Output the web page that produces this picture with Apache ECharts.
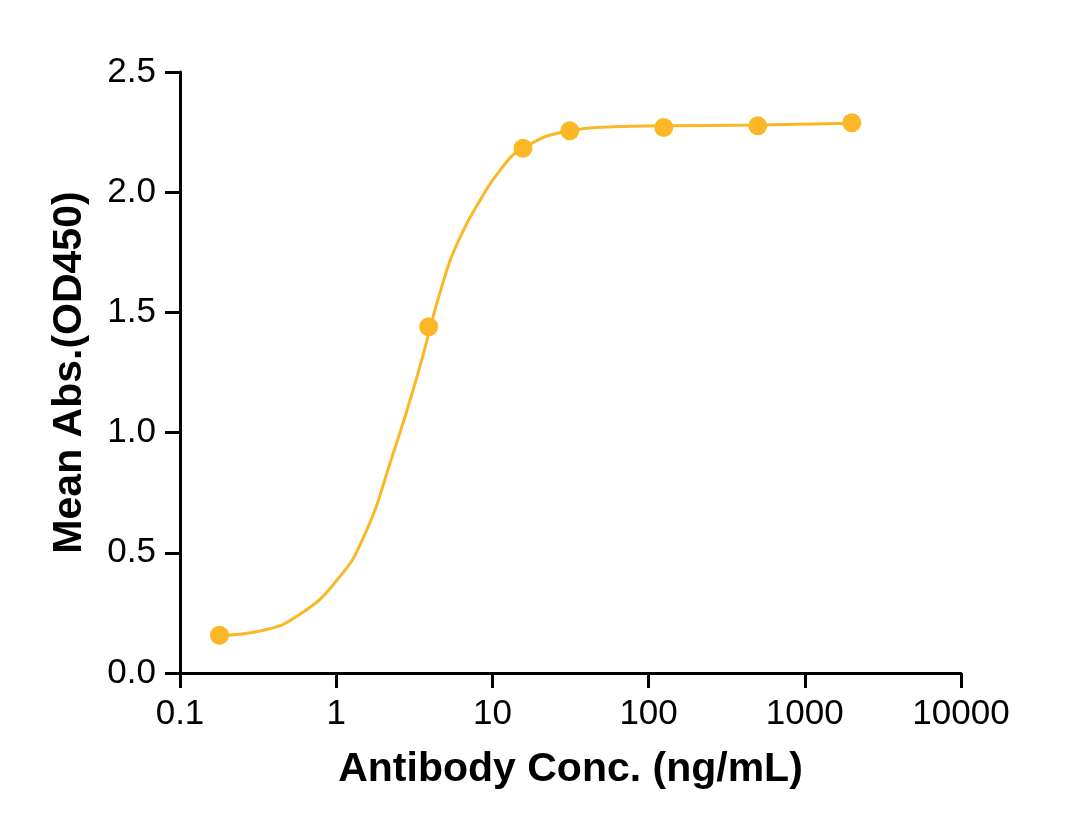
<!DOCTYPE html>
<html>
<head>
<meta charset="utf-8">
<script src="https://cdn.jsdelivr.net/npm/echarts@6/dist/echarts.min.js"></script>
<style>
  html, body { margin: 0; padding: 0; background: #fff; }
  #chart { width: 1082px; height: 837px; }
</style>
</head>
<body>
<div id="chart"></div>
<script>
// measured points
const concX = [0.179, 3.91, 15.7, 31.3, 125, 500, 2000];
const meanAbs = [0.157, 1.440, 2.183, 2.256, 2.269, 2.276, 2.289];

// fitted curve
const fitX = [0.179, 0.342, 0.588, 1.01, 1.50, 2.28, 3.29, 4.88, 6.24, 8.37, 11.25, 15.7, 31.3, 60, 119, 500, 2000];
const fitY = [0.157, 0.178, 0.245, 0.386, 0.566, 0.899, 1.232, 1.635, 1.815, 1.968, 2.093, 2.183, 2.256, 2.272, 2.276, 2.280, 2.287];

const yTicks = ['0.0', '0.5', '1.0', '1.5', '2.0', '2.5'];

const color = '#FBB726';
const font = "'Liberation Sans', Arial, sans-serif";

let myChart = echarts.init(document.getElementById('chart'));

let options = {
  animation: false,
  grid: { left: 180, right: 121, top: 72, bottom: 164 },
  xAxis: {
    type: 'log',
    logBase: 10,
    min: 0.1,
    max: 10000,
    name: 'Antibody Conc. (ng/mL)',
    nameLocation: 'middle',
    nameGap: 76,
    nameTextStyle: { fontFamily: font, fontSize: 41, fontWeight: 'bold', color: '#000' },
    axisLine: { lineStyle: { color: '#000', width: 3 } },
    axisTick: { length: 15, lineStyle: { color: '#000', width: 3 } },
    minorTick: { show: false },
    splitLine: { show: false },
    axisLabel: {
      fontFamily: font, fontSize: 35, color: '#000', margin: 24,
      formatter: v => String(v)
    }
  },
  yAxis: {
    type: 'value',
    min: 0,
    max: 2.5,
    interval: 0.5,
    name: 'Mean Abs.(OD450)',
    nameLocation: 'middle',
    nameGap: 90,
    nameTextStyle: { fontFamily: font, fontSize: 41, fontWeight: 'bold', color: '#000' },
    axisLine: { show: true, lineStyle: { color: '#000', width: 3 } },
    axisTick: { show: true, length: 15, lineStyle: { color: '#000', width: 3 } },
    splitLine: { show: false },
    axisLabel: {
      fontFamily: font, fontSize: 35, color: '#000', margin: 24,
      formatter: v => yTicks[Math.round(v / 0.5)]
    }
  },
  series: [
    {
      type: 'line',
      data: fitX.map((x, i) => [x, fitY[i]]),
      smooth: 0.5,
      showSymbol: false,
      lineStyle: { color: color, width: 3 },
      z: 2
    },
    {
      type: 'scatter',
      data: concX.map((x, i) => [x, meanAbs[i]]),
      symbolSize: 19,
      itemStyle: { color: color, opacity: 1 },
      z: 3
    }
  ]
};

myChart.setOption(options);
</script>
</body>
</html>
